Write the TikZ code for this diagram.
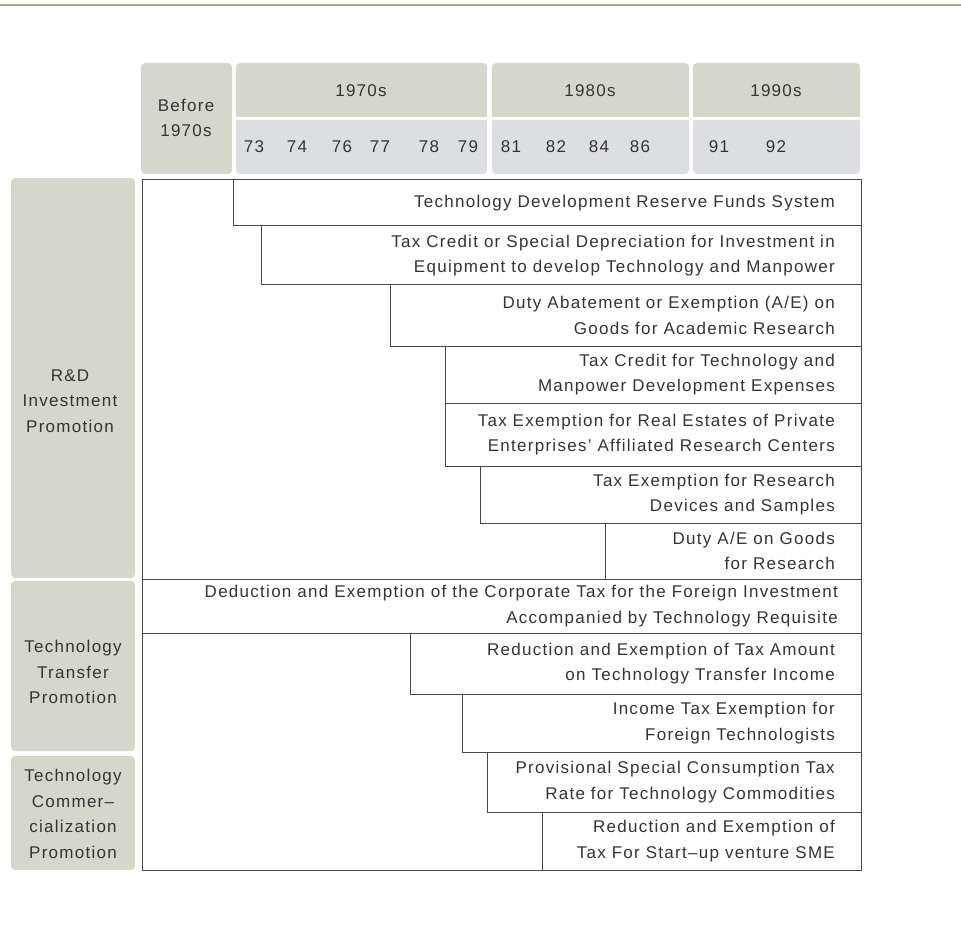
\documentclass[tikz,border=0pt]{standalone}
\usepackage{fontspec}
\usepackage{tikz}
\newfontfamily\tblfont{Liberation Sans}[LetterSpace=7.5]
\newcommand{\tblsize}{\tblfont\fontsize{17pt}{25.5pt}\selectfont}
\definecolor{hdrgreen}{RGB}{213,215,202}
\definecolor{hdrgray}{RGB}{221,222,226}
\definecolor{topline}{RGB}{160,167,142}
\definecolor{rule}{RGB}{72,72,72}
\definecolor{ink}{RGB}{52,52,52}
\tikzset{
  rowtxt/.style={anchor=east, align=right, inner sep=0pt, text=ink, font=\tblsize},
  hdrtxt/.style={align=center, inner sep=0pt, text=ink, font=\tblsize},
  rowbox/.style={draw=rule, line width=1pt},
}

\begin{document}
\begin{tikzpicture}[x=1pt,y=-1pt]
\useasboundingbox (0,0) rectangle (961,933);
\draw[topline, line width=2pt] (0,5) -- (961,5);

% header
\fill[hdrgreen, rounded corners=4pt] (141,63) rectangle (232,174);
\fill[hdrgreen, rounded corners=4pt] (236,63) rectangle (487,117);
\fill[hdrgreen] (236,100) rectangle (487,117);
\fill[hdrgray, rounded corners=4pt] (236,120) rectangle (487,174);
\fill[hdrgray] (236,120) rectangle (487,135);
\fill[hdrgreen, rounded corners=4pt] (492,63) rectangle (689,117);
\fill[hdrgreen] (492,100) rectangle (689,117);
\fill[hdrgray, rounded corners=4pt] (492,120) rectangle (689,174);
\fill[hdrgray] (492,120) rectangle (689,135);
\fill[hdrgreen, rounded corners=4pt] (693,63) rectangle (860,117);
\fill[hdrgreen] (693,100) rectangle (860,117);
\fill[hdrgray, rounded corners=4pt] (693,120) rectangle (860,174);
\fill[hdrgray] (693,120) rectangle (860,135);
\node[hdrtxt] (before) at (186,118) {Before\\1970s};
\node[hdrtxt] (d70) at (361,91) {1970s};
\node[hdrtxt] (d80) at (590,91) {1980s};
\node[hdrtxt] (d90) at (776,91) {1990s};
\node[hdrtxt] (y73) at (254,147) {73};
\node[hdrtxt] (y74) at (297,147) {74};
\node[hdrtxt] (y76) at (342,147) {76};
\node[hdrtxt] (y77) at (380,147) {77};
\node[hdrtxt] (y78) at (429,147) {78};
\node[hdrtxt] (y79) at (468,147) {79};
\node[hdrtxt] (y81) at (511,147) {81};
\node[hdrtxt] (y82) at (556,147) {82};
\node[hdrtxt] (y84) at (599,147) {84};
\node[hdrtxt] (y86) at (640,147) {86};
\node[hdrtxt] (y91) at (719,147) {91};
\node[hdrtxt] (y92) at (776,147) {92};

% categories
\fill[hdrgreen, rounded corners=4pt] (11,178) rectangle (135,578);
\fill[hdrgreen, rounded corners=4pt] (11,581) rectangle (135,751);
\fill[hdrgreen, rounded corners=4pt] (11,756) rectangle (135,870);
\node[hdrtxt] (rnd) at (70,401) {R\&D\\Investment\\Promotion};
\node[hdrtxt] (transfer) at (73,672) {Technology\\Transfer\\Promotion};
\node[hdrtxt] (commerce) at (73,814) {Technology\\Commer–\\cialization\\Promotion};

% table
\draw[rowbox] (142,180) rectangle (861,870);
\draw[rowbox] (233,180) rectangle (861,226);
\draw[rowbox] (261,226) rectangle (861,285);
\draw[rowbox] (390,285) rectangle (861,346);
\draw[rowbox] (445,346) rectangle (861,403);
\draw[rowbox] (445,403) rectangle (861,466);
\draw[rowbox] (480,466) rectangle (861,523);
\draw[rowbox] (605,523) rectangle (861,579);
\draw[rowbox] (142,579) rectangle (861,633);
\draw[rowbox] (410,633) rectangle (861,694);
\draw[rowbox] (462,694) rectangle (861,752);
\draw[rowbox] (487,752) rectangle (861,812);
\draw[rowbox] (542,812) rectangle (861,870);

\node[rowtxt] (r1) at (835,203) {Technology Development Reserve Funds System};
\node[rowtxt] (r2) at (835,255.5) {Tax Credit or Special Depreciation for Investment in\\Equipment to develop Technology and Manpower};
\node[rowtxt] (r3) at (835,315.5) {Duty Abatement or Exemption (A/E) on\\Goods for Academic Research};
\node[rowtxt] (r4) at (835,374.5) {Tax Credit for Technology and\\Manpower Development Expenses};
\node[rowtxt] (r5) at (835,434.5) {Tax Exemption for Real Estates of Private\\Enterprises’ Affiliated Research Centers};
\node[rowtxt] (r6) at (835,494.5) {Tax Exemption for Research\\Devices and Samples};
\node[rowtxt] (r7) at (835,551) {Duty A/E on Goods\\for Research};
\node[rowtxt] (r8) at (838,606) {Deduction and Exemption of the Corporate Tax for the Foreign Investment\\Accompanied by Technology Requisite};
\node[rowtxt] (r9) at (835,663.5) {Reduction and Exemption of Tax Amount\\on Technology Transfer Income};
\node[rowtxt] (r10) at (835,723) {Income Tax Exemption for\\Foreign Technologists};
\node[rowtxt] (r11) at (835,782) {Provisional Special Consumption Tax\\Rate for Technology Commodities};
\node[rowtxt] (r12) at (835,841) {Reduction and Exemption of\\Tax For Start–up venture SME};
\end{tikzpicture}
\end{document}
